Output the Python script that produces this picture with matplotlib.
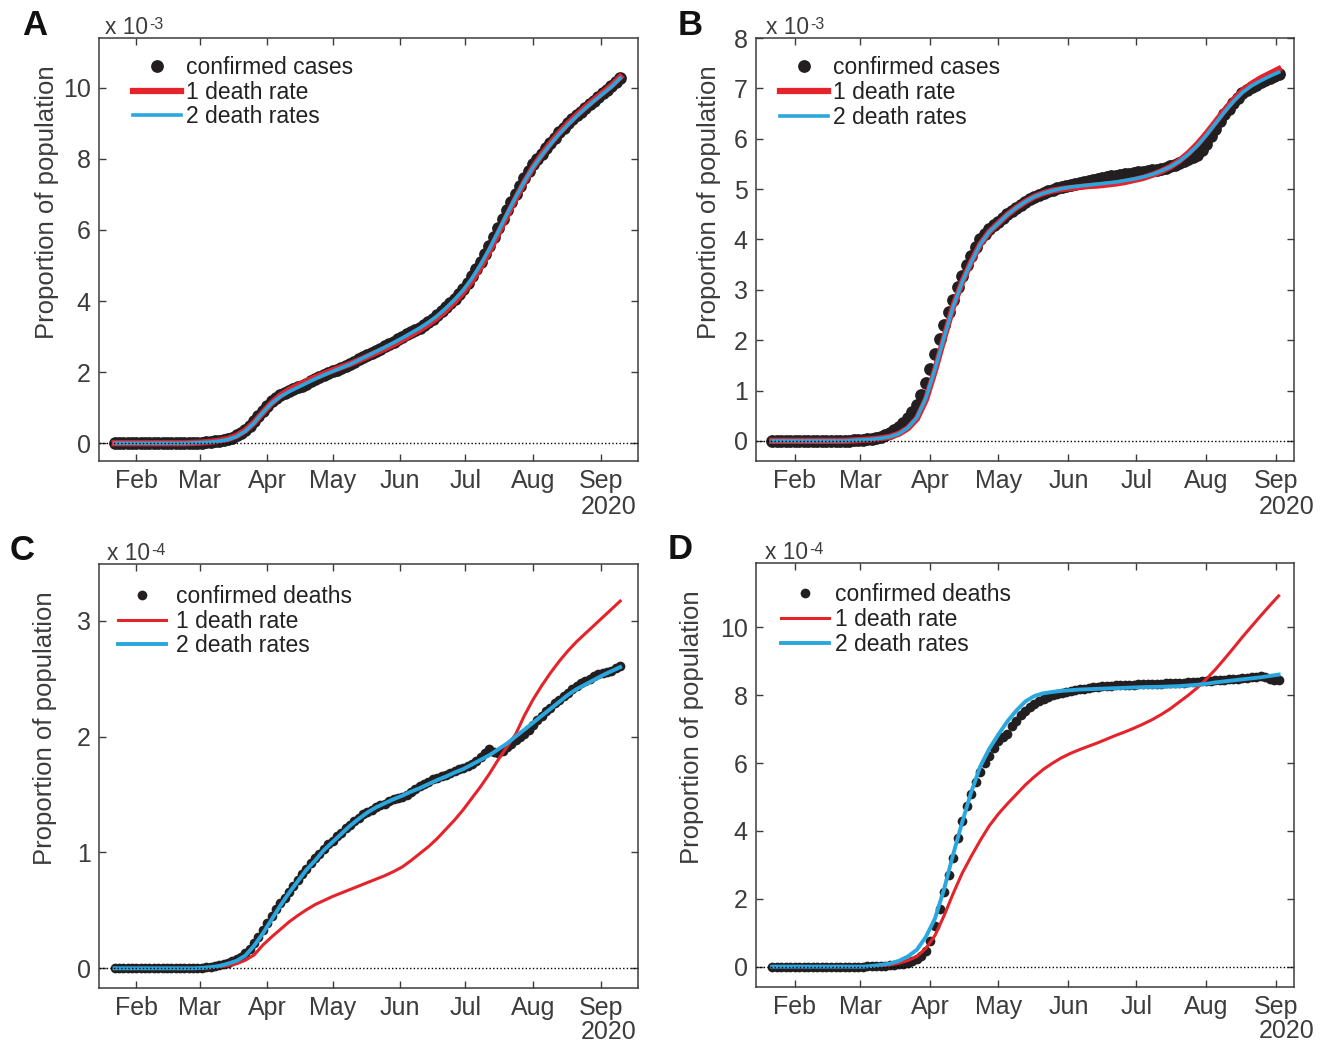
import numpy as np
import matplotlib
matplotlib.use('Agg')
import matplotlib.pyplot as plt
import matplotlib.dates as mdates

plt.rcParams['font.family'] = ['Liberation Sans', 'DejaVu Sans']

# observations every 2 days, model curves every 4 days, starting 22 Jan 2020
start = np.datetime64('2020-01-22')
obs_ac = start + np.arange(0, 233, 2).astype('timedelta64[D]')
obs_bd = start + np.arange(0, 225, 2).astype('timedelta64[D]')
fit_ac = start + np.arange(0, 233, 4).astype('timedelta64[D]')
fit_bd = start + np.arange(0, 225, 4).astype('timedelta64[D]')

# panel A, proportion of population (x 1e-3)
cases_a = [0, 0, 0, 0, 0, 0, 0, 0, 0, 0, 0, 0, 0, 0, 0, 0, 0,
           0.005, 0.01, 0.015, 0.02, 0.03, 0.04, 0.055, 0.07, 0.09, 0.12, 0.16, 0.22, 0.29, 0.38,
           0.49, 0.62, 0.76, 0.90, 1.05, 1.18, 1.28, 1.35, 1.41, 1.47, 1.52, 1.57, 1.62, 1.68,
           1.74, 1.80, 1.86, 1.92, 1.97, 2.02, 2.07, 2.12, 2.17, 2.23, 2.29, 2.36, 2.42, 2.49,
           2.54, 2.60, 2.66, 2.73, 2.79, 2.86, 2.93, 3.00, 3.06, 3.12, 3.18, 3.25, 3.32, 3.40,
           3.50, 3.60, 3.71, 3.83, 3.95, 4.07, 4.20, 4.34, 4.52, 4.70, 4.90, 5.10, 5.32, 5.55,
           5.80, 6.05, 6.30, 6.55, 6.78, 7.00, 7.23, 7.45, 7.66, 7.85, 8.00, 8.15, 8.30, 8.45,
           8.60, 8.75, 8.88, 9.00, 9.11, 9.22, 9.33, 9.44, 9.54, 9.64, 9.74, 9.84, 9.94, 10.04,
           10.16, 10.28]
red_a = [0, 0, 0, 0, 0, 0, 0, 0, 0, 0.01, 0.02, 0.04, 0.07, 0.12, 0.21, 0.36, 0.58, 0.86,
         1.13, 1.34, 1.50, 1.62, 1.74, 1.85, 1.95, 2.05, 2.14, 2.23, 2.33, 2.44, 2.55, 2.66,
         2.78, 2.91, 3.05, 3.19, 3.35, 3.53, 3.74, 3.98, 4.25, 4.57, 4.96, 5.40, 5.89, 6.39,
         6.88, 7.34, 7.76, 8.12, 8.44, 8.73, 8.99, 9.23, 9.45, 9.66, 9.86, 10.06, 10.30]
blue_a = [0, 0, 0, 0, 0, 0, 0, 0, 0, 0.01, 0.02, 0.03, 0.06, 0.10, 0.19, 0.34, 0.57, 0.86,
          1.12, 1.31, 1.45, 1.57, 1.69, 1.81, 1.92, 2.02, 2.12, 2.22, 2.34, 2.46, 2.58, 2.70,
          2.83, 2.96, 3.10, 3.24, 3.40, 3.58, 3.80, 4.04, 4.31, 4.64, 5.03, 5.47, 5.95, 6.44,
          6.92, 7.36, 7.76, 8.10, 8.41, 8.70, 8.96, 9.20, 9.42, 9.63, 9.83, 10.03, 10.27]

# panel B (x 1e-3)
cases_b = [0, 0, 0, 0, 0, 0, 0, 0, 0, 0, 0, 0, 0, 0, 0, 0, 0,
           0.005, 0.01, 0.015, 0.02, 0.03, 0.04, 0.06, 0.08, 0.11, 0.15, 0.21, 0.28, 0.36, 0.46,
           0.58, 0.72, 0.92, 1.15, 1.42, 1.72, 2.02, 2.30, 2.55, 2.80, 3.05, 3.28, 3.50, 3.68,
           3.85, 4.00, 4.11, 4.20, 4.28, 4.35, 4.43, 4.50, 4.56, 4.62, 4.69, 4.75, 4.80, 4.85,
           4.89, 4.93, 4.96, 4.99, 5.02, 5.04, 5.06, 5.08, 5.10, 5.12, 5.14, 5.16, 5.18, 5.20,
           5.22, 5.23, 5.25, 5.26, 5.28, 5.29, 5.30, 5.31, 5.33, 5.34, 5.36, 5.37, 5.38, 5.40,
           5.42, 5.45, 5.48, 5.52, 5.56, 5.60, 5.64, 5.68, 5.78, 5.90, 6.05, 6.20, 6.35, 6.50,
           6.60, 6.70, 6.80, 6.90, 6.96, 7.02, 7.07, 7.12, 7.16, 7.20, 7.24, 7.28]
red_b = [0, 0, 0, 0, 0, 0, 0, 0, 0, 0.01, 0.02, 0.03, 0.05, 0.08, 0.14, 0.25, 0.44, 0.82,
         1.40, 2.04, 2.66, 3.15, 3.55, 3.90, 4.15, 4.32, 4.49, 4.63, 4.75, 4.85, 4.92, 4.97,
         5.00, 5.02, 5.04, 5.06, 5.07, 5.09, 5.11, 5.14, 5.18, 5.22, 5.28, 5.35, 5.44, 5.56,
         5.71, 5.89, 6.10, 6.33, 6.56, 6.77, 6.95, 7.09, 7.20, 7.29, 7.38]
blue_b = [0, 0, 0, 0, 0, 0, 0, 0, 0, 0.01, 0.02, 0.03, 0.05, 0.08, 0.14, 0.26, 0.46, 0.85,
          1.42, 2.05, 2.66, 3.15, 3.55, 3.90, 4.15, 4.32, 4.49, 4.63, 4.75, 4.85, 4.92, 4.97,
          5.01, 5.04, 5.06, 5.08, 5.10, 5.12, 5.14, 5.17, 5.20, 5.24, 5.29, 5.36, 5.44, 5.55,
          5.69, 5.86, 6.07, 6.30, 6.53, 6.74, 6.92, 7.05, 7.15, 7.24, 7.32]

# panel C (x 1e-4)
deaths_c = [0, 0, 0, 0, 0, 0, 0, 0, 0, 0, 0, 0, 0, 0, 0, 0, 0, 0, 0,
            0.002, 0.005, 0.01, 0.015, 0.022, 0.03, 0.04, 0.05, 0.065, 0.08, 0.10, 0.13, 0.17,
            0.22, 0.27, 0.33, 0.39, 0.45, 0.51, 0.56, 0.61, 0.66, 0.71, 0.76, 0.81, 0.86, 0.91,
            0.95, 0.99, 1.03, 1.07, 1.10, 1.14, 1.17, 1.21, 1.24, 1.27, 1.30, 1.33, 1.35, 1.37,
            1.39, 1.41, 1.42, 1.44, 1.46, 1.47, 1.48, 1.50, 1.52, 1.55, 1.57, 1.59, 1.61, 1.63,
            1.64, 1.66, 1.67, 1.69, 1.70, 1.72, 1.73, 1.75, 1.76, 1.79, 1.82, 1.86, 1.89, 1.87,
            1.86, 1.88, 1.91, 1.94, 1.97, 2.00, 2.02, 2.06, 2.10, 2.14, 2.18, 2.22, 2.25, 2.29,
            2.32, 2.35, 2.38, 2.41, 2.44, 2.46, 2.48, 2.50, 2.52, 2.54, 2.55, 2.56, 2.57, 2.59,
            2.61]
red_c = [0, 0, 0, 0, 0, 0, 0, 0, 0, 0, 0, 0.005, 0.012, 0.022, 0.04, 0.07, 0.115, 0.20,
         0.27, 0.335, 0.40, 0.455, 0.505, 0.55, 0.585, 0.62, 0.65, 0.68, 0.71, 0.74, 0.77, 0.80,
         0.835, 0.875, 0.93, 0.99, 1.05, 1.12, 1.20, 1.28, 1.37, 1.47, 1.57, 1.68, 1.80, 1.91,
         2.02, 2.18, 2.32, 2.44, 2.55, 2.65, 2.74, 2.82, 2.89, 2.96, 3.03, 3.10, 3.17]
blue_c = [0, 0, 0, 0, 0, 0, 0, 0, 0, 0, 0.003, 0.01, 0.02, 0.04, 0.065, 0.11, 0.195, 0.30,
          0.42, 0.54, 0.65, 0.75, 0.85, 0.93, 1.02, 1.09, 1.16, 1.23, 1.29, 1.345, 1.39, 1.425,
          1.46, 1.49, 1.525, 1.555, 1.59, 1.625, 1.655, 1.69, 1.72, 1.76, 1.80, 1.84, 1.89, 1.94,
          2.00, 2.06, 2.12, 2.18, 2.24, 2.30, 2.36, 2.41, 2.45, 2.49, 2.53, 2.565, 2.60]

# panel D (x 1e-4)
deaths_d = [0, 0, 0, 0, 0, 0, 0, 0, 0, 0, 0, 0, 0, 0, 0, 0, 0, 0, 0, 0, 0,
            0.005, 0.01, 0.015, 0.02, 0.03, 0.04, 0.055, 0.07, 0.09, 0.12, 0.16, 0.22, 0.32,
            0.45, 0.75, 1.20, 1.70, 2.20, 2.70, 3.20, 3.78, 4.30, 4.75, 5.10, 5.45, 5.75, 6.00,
            6.20, 6.45, 6.65, 6.78, 6.85, 7.08, 7.25, 7.42, 7.55, 7.66, 7.75, 7.83, 7.90, 7.95,
            8.00, 8.04, 8.08, 8.11, 8.13, 8.16, 8.18, 8.20, 8.22, 8.24, 8.25, 8.26, 8.27, 8.28,
            8.29, 8.30, 8.30, 8.31, 8.31, 8.32, 8.32, 8.33, 8.33, 8.34, 8.34, 8.35, 8.35, 8.36,
            8.36, 8.37, 8.38, 8.39, 8.40, 8.41, 8.42, 8.43, 8.44, 8.45, 8.46, 8.47, 8.48, 8.49,
            8.50, 8.52, 8.53, 8.55, 8.56, 8.54, 8.48, 8.45, 8.44]
red_d = [0, 0, 0, 0, 0, 0, 0, 0, 0, 0, 0, 0.01, 0.025, 0.05, 0.10, 0.18, 0.30, 0.54,
         0.92, 1.50, 2.15, 2.75, 3.25, 3.72, 4.15, 4.50, 4.80, 5.08, 5.36, 5.60, 5.82, 6.00,
         6.16, 6.29, 6.40, 6.50, 6.60, 6.71, 6.82, 6.92, 7.03, 7.15, 7.28, 7.43, 7.60, 7.80,
         8.00, 8.22, 8.48, 8.76, 9.07, 9.39, 9.72, 10.03, 10.34, 10.64, 10.93]
blue_d = [0, 0, 0, 0, 0, 0, 0, 0, 0, 0, 0, 0.02, 0.05, 0.09, 0.17, 0.30, 0.50, 0.88,
          1.42, 2.28, 3.30, 4.25, 5.14, 5.90, 6.42, 6.84, 7.23, 7.55, 7.82, 7.98, 8.06, 8.10,
          8.13, 8.15, 8.17, 8.18, 8.19, 8.20, 8.21, 8.22, 8.23, 8.24, 8.245, 8.25, 8.26, 8.27,
          8.29, 8.31, 8.34, 8.38, 8.41, 8.44, 8.47, 8.50, 8.53, 8.57, 8.61]

RED = '#E4232B'
BLUE = '#2AA7DF'
DOT = '#231F20'
GREY = '#3C3C3C'

W, H = 1331, 1042
fig = plt.figure(figsize=(W / 100, H / 100), dpi=100)


def box(l, r, t, b):
    return [l / W, 1 - b / H, (r - l) / W, (b - t) / H]


def draw_panel(ax, obs_dates, fit_dates, dots, red, blue, label, ylim, yticks, xlim,
               dot_size, red_lw, blue_lw, leg_anchor, textpad, ylab_x):
    ax.plot(obs_dates, dots, 'o', color=DOT, ms=dot_size, mec=DOT, mew=0, label=label, zorder=2)
    ax.plot(fit_dates, red, '-', color=RED, lw=red_lw, label='1 death rate', zorder=3)
    ax.plot(fit_dates, blue, '-', color=BLUE, lw=blue_lw, label='2 death rates', zorder=4)
    ax.axhline(0, color='k', lw=1.0, ls=(0, (1, 1.6)), zorder=5)

    # xlim given in hours relative to the first sample
    ax.set_xlim(start + np.timedelta64(int(xlim[0]), 'h'),
                start + np.timedelta64(int(xlim[1]), 'h'))
    ax.set_ylim(*ylim)
    ax.set_yticks(yticks)
    ax.xaxis.set_major_locator(mdates.MonthLocator(bymonth=range(2, 10)))
    ax.xaxis.set_major_formatter(mdates.DateFormatter('%b'))
    ax.tick_params(direction='in', top=True, right=True, length=5, width=1,
                   color=GREY, labelcolor=GREY, labelsize=18, pad=6)
    for s in ax.spines.values():
        s.set_color(GREY)
        s.set_linewidth(1.1)

    ax.set_ylabel('Proportion of population', fontsize=18.5, color=GREY, va='center')
    ax.yaxis.set_label_coords(ylab_x, 0.612)

    leg = ax.legend(loc='upper left', bbox_to_anchor=leg_anchor, frameon=False,
                    fontsize=16.5, handlelength=2.1, handletextpad=textpad,
                    labelspacing=0.08, borderpad=0, borderaxespad=0)
    for t in leg.get_texts():
        t.set_color('#222222')


ax_a = fig.add_axes(box(99, 638, 38, 461))
draw_panel(ax_a, obs_ac, fit_ac, cases_a, red_a, blue_a, 'confirmed cases',
           (-0.5, 11.4), range(0, 11, 2), (-7.2 * 24, 240.2 * 24),
           9.2, 4.5, 2.6, (0.063, 0.958), 0.2, -0.097)

ax_b = fig.add_axes(box(756, 1294, 38, 461))
draw_panel(ax_b, obs_bd, fit_bd, cases_b, red_b, blue_b, 'confirmed cases',
           (-0.4, 8), range(0, 9), (-7.2 * 24, 230.8 * 24),
           9.2, 4.5, 2.6, (0.045, 0.957), 0.2, -0.087)

ax_c = fig.add_axes(box(99, 638, 564, 988))
draw_panel(ax_c, obs_ac, fit_ac, deaths_c, red_c, blue_c, 'confirmed deaths',
           (-0.17, 3.49), range(0, 4), (-7.2 * 24, 240.2 * 24),
           7.0, 2.2, 2.8, (0.035, 0.951), 0.45, -0.101)

ax_d = fig.add_axes(box(756, 1294, 563, 987))
draw_panel(ax_d, obs_bd, fit_bd, deaths_d, red_d, blue_d, 'confirmed deaths',
           (-0.6, 11.9), range(0, 11, 2), (-7.2 * 24, 230.8 * 24),
           7.0, 2.2, 2.8, (0.046, 0.953), 0.25, -0.119)

# scale factors above each axes: "x 10" plus a raised exponent with a plain hyphen
renderer = fig.canvas.get_renderer()
for x, y, exp in [(105, 34, '-3'), (766, 34, '-3'), (107, 560, '-4'), (765, 559, '-4')]:
    base = fig.text(x / W, 1 - y / H, 'x 10', fontsize=16.4, color=GREY,
                    ha='left', va='baseline')
    x1 = base.get_window_extent(renderer).x1
    fig.text((x1 + 1) / W, 1 - (y - 5) / H, exp, fontsize=11.5, color=GREY,
             ha='left', va='baseline')

# panel letters and year labels
for letter, x, y in [('A', 22, 35), ('B', 678, 35), ('C', 10, 560), ('D', 668, 559)]:
    fig.text(x / W, 1 - y / H, letter, fontsize=25, weight='bold', color='#111111',
             ha='left', va='baseline')
for x, y in [(636, 507), (1315, 507), (636, 1032), (1315, 1031)]:
    fig.text(x / W, 1 - y / H, '2020', fontsize=18, color=GREY, ha='right', va='center')

fig.savefig('out.png', dpi=100)
